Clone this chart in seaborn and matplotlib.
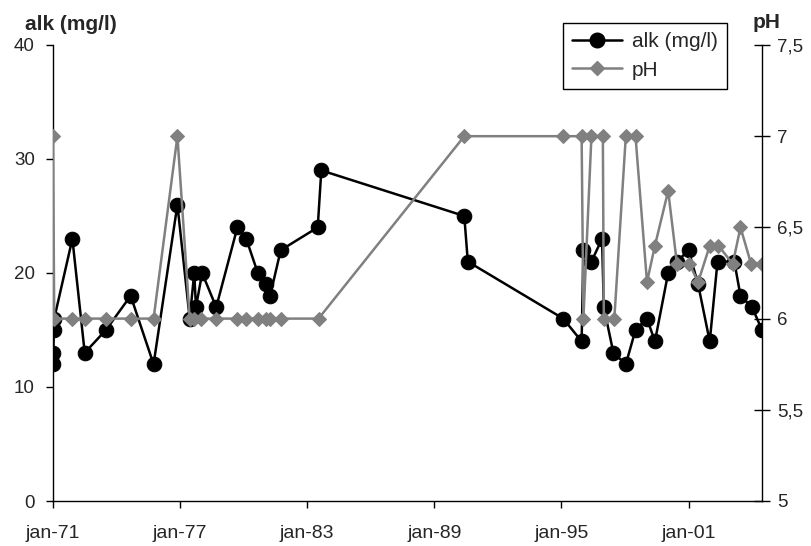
import matplotlib
matplotlib.use("Agg")
import matplotlib.pyplot as plt
from matplotlib.lines import Line2D
import seaborn as sns
import pandas as pd

# ---- data ----
alk_dates = ["1971-01-01", "1971-01-08", "1971-01-15", "1971-01-22", "1971-12-01",
             "1972-07-01", "1973-07-01", "1974-09-01", "1975-10-01", "1976-11-15",
             "1977-06-15", "1977-09-01", "1977-10-01", "1978-01-15", "1978-09-15",
             "1979-09-15", "1980-02-15", "1980-09-01", "1981-01-15", "1981-04-01",
             "1981-10-01", "1983-07-01", "1983-09-01", "1990-06-01", "1990-08-01",
             "1995-02-01", "1995-12-15", "1996-01-15", "1996-06-01", "1996-12-01",
             "1997-01-01", "1997-06-15", "1998-01-15", "1998-07-01", "1999-01-15",
             "1999-06-01", "2000-01-15", "2000-06-15", "2001-01-01", "2001-06-15",
             "2002-01-01", "2002-05-15", "2003-03-01", "2003-06-15", "2004-01-01",
             "2004-06-20"]
alk_values = [12, 13, 15, 16, 23, 13, 15, 18, 12, 26,
              16, 20, 17, 20, 17, 24, 23, 20, 19, 18,
              22, 24, 29, 25, 21, 16, 14, 22, 21, 23,
              17, 13, 12, 15, 16, 14, 20, 21, 22, 19,
              14, 21, 21, 18, 17, 15]

ph_dates = ["1971-01-01", "1971-01-22", "1971-12-01", "1972-07-01", "1973-07-01",
            "1974-09-01", "1975-10-01", "1976-11-15", "1977-06-15", "1977-09-01",
            "1978-01-01", "1978-09-15", "1979-09-15", "1980-02-15", "1980-09-01",
            "1981-01-15", "1981-04-01", "1981-10-01", "1983-07-15", "1990-06-01",
            "1995-02-01", "1995-12-15", "1996-01-15", "1996-06-01", "1996-12-15",
            "1997-01-01", "1997-07-01", "1998-01-15", "1998-07-01", "1999-01-15",
            "1999-06-01", "2000-01-15", "2000-06-15", "2001-01-15", "2001-06-15",
            "2002-01-01", "2002-06-01", "2003-02-01", "2003-06-15", "2003-12-15",
            "2004-06-20"]
ph_values = [7, 6, 6, 6, 6, 6, 6, 7, 6, 6,
             6, 6, 6, 6, 6, 6, 6, 6, 6, 7,
             7, 7, 6, 7, 7, 6, 6, 7, 7, 6.2,
             6.4, 6.7, 6.3, 6.3, 6.2, 6.4, 6.4, 6.3, 6.5, 6.3,
             6.3]

x_tick_dates = ["1971-01-01", "1977-01-01", "1983-01-01", "1989-01-01", "1995-01-01", "2001-01-01"]
x_tick_labels = ["jan-71", "jan-77", "jan-83", "jan-89", "jan-95", "jan-01"]
y1_ticks = [0, 10, 20, 30, 40]
y2_ticks = [5, 5.5, 6, 6.5, 7, 7.5]
y2_tick_labels = ["5", "5,5", "6", "6,5", "7", "7,5"]

alk_df = pd.DataFrame({"date": pd.to_datetime(alk_dates), "alk": alk_values})
ph_df = pd.DataFrame({"date": pd.to_datetime(ph_dates), "pH": ph_values})

# ---- style ----
sns.set_theme(style="white")
plt.rcParams["font.family"] = ["Liberation Sans", "DejaVu Sans"]
plt.rcParams["font.size"] = 13.5

fig = plt.figure(figsize=(8.11, 5.46), dpi=100)
L, R, T, B = 53, 762, 45, 501
ax = fig.add_axes([L / 811, 1 - B / 546, (R - L) / 811, (B - T) / 546])
ax2 = ax.twinx()

sns.lineplot(data=alk_df, x="date", y="alk", ax=ax, color="black", linewidth=1.8,
             marker="o", markersize=10.5, markeredgecolor="black",
             estimator=None, sort=False, legend=False)
sns.lineplot(data=ph_df, x="date", y="pH", ax=ax2, color="#808080", linewidth=1.8,
             marker="D", markersize=7, markeredgecolor="#808080",
             estimator=None, sort=False, legend=False)

ax.set_xlim(pd.Timestamp("1971-01-01"), pd.Timestamp("2004-06-20"))
ax.set_ylim(0, 40)
ax2.set_ylim(5, 7.5)
ax.set_xticks(pd.to_datetime(x_tick_dates))
ax.set_xticklabels(x_tick_labels)
ax.set_yticks(y1_ticks)
ax2.set_yticks(y2_ticks)
ax2.set_yticklabels(y2_tick_labels)
ax.set_xlabel("")
ax.set_ylabel("")
ax2.set_ylabel("")

for a in (ax, ax2):
    a.spines["top"].set_visible(False)
    for s in a.spines.values():
        s.set_color("black")
        s.set_linewidth(1.0)
ax.spines["right"].set_visible(False)
ax2.spines["left"].set_visible(False)
ax2.spines["bottom"].set_visible(False)

ax.tick_params(axis="x", direction="out", length=5, width=1, color="black",
               labelsize=14, pad=12, bottom=True)
ax.tick_params(axis="y", direction="out", length=5, width=1, color="black",
               labelsize=13.5, pad=8, left=True)
ax2.tick_params(axis="y", direction="inout", length=12, width=1, color="black",
                labelsize=13.5, pad=5, right=True)

fig.text(25 / 811, 1 - 30 / 546, "alk (mg/l)", fontsize=15, fontweight="bold",
         ha="left", va="baseline")
fig.text(753 / 811, 1 - 28 / 546, "pH", fontsize=15, fontweight="bold",
         ha="left", va="baseline")

handles = [
    Line2D([], [], color="black", linewidth=1.8, marker="o", markersize=10.5),
    Line2D([], [], color="#808080", linewidth=1.8, marker="D", markersize=7),
]
leg = ax2.legend(handles, ["alk (mg/l)", "pH"], loc="upper left",
                 bbox_to_anchor=((563 - L) / (R - L), 1 + (T - 23) / (B - T)),
                 frameon=True, fancybox=False, framealpha=1, edgecolor="black",
                 fontsize=15, handlelength=2.4, borderpad=0.45, labelspacing=0.45,
                 handletextpad=0.45, borderaxespad=0)
leg.get_frame().set_linewidth(1.0)

fig.savefig("out.png", dpi=100)
